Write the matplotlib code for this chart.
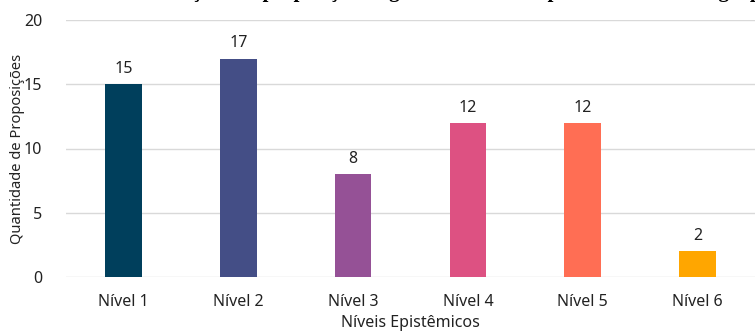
import matplotlib
matplotlib.use("Agg")
import matplotlib.pyplot as plt

categories = ["Nível 1", "Nível 2", "Nível 3", "Nível 4", "Nível 5", "Nível 6"]
values = [15, 17, 8, 12, 12, 2]
colors = ["#003f5c", "#444e86", "#955196", "#dd5182", "#ff6e54", "#ffa600"]
yticks = [0, 5, 10, 15, 20]
title = "Distribuição das proposições segundo os Níveis Epistêmicos de cada grupo"

plt.rcParams['font.family'] = ['Noto Sans', 'DejaVu Sans']

fig = plt.figure(figsize=(7.55, 3.32), dpi=100)
ax = fig.add_axes([66/755, 1 - 277/332, (755-66)/755, 257/332])

x = list(range(len(categories)))
bars = ax.bar(x, values, width=0.32, color=colors, zorder=3)
for xi, v in zip(x, values):
    ax.text(xi, v + 0.55, str(v), ha='center', va='bottom', fontsize=11.5, color='#222222')

ax.set_xlim(-0.5, len(categories) - 0.5)
ax.set_ylim(0, 20)
ax.set_yticks(yticks)
ax.set_xticks(x)
ax.set_xticklabels(categories)
ax.tick_params(axis='both', length=0, labelsize=11.5, colors='#222222')
ax.tick_params(axis='x', pad=12)
ax.tick_params(axis='y', pad=17)
ax.yaxis.grid(True, color='#d9d9d9', linewidth=1, zorder=0)
for s in ax.spines.values():
    s.set_visible(False)

ax.set_ylabel("Quantidade de Proposições", fontsize=10.6, color='#222222')
ax.yaxis.set_label_coords(-0.059, 0.5)
ax.set_xlabel("Níveis Epistêmicos", fontsize=11.5, color='#222222', labelpad=4)

fig.text(0.585, 1.0 + 3.5/332, title, ha='center', va='baseline', fontsize=15,
         fontweight='bold', family=['Liberation Serif', 'DejaVu Serif'])

fig.savefig("out.png", dpi=100)
